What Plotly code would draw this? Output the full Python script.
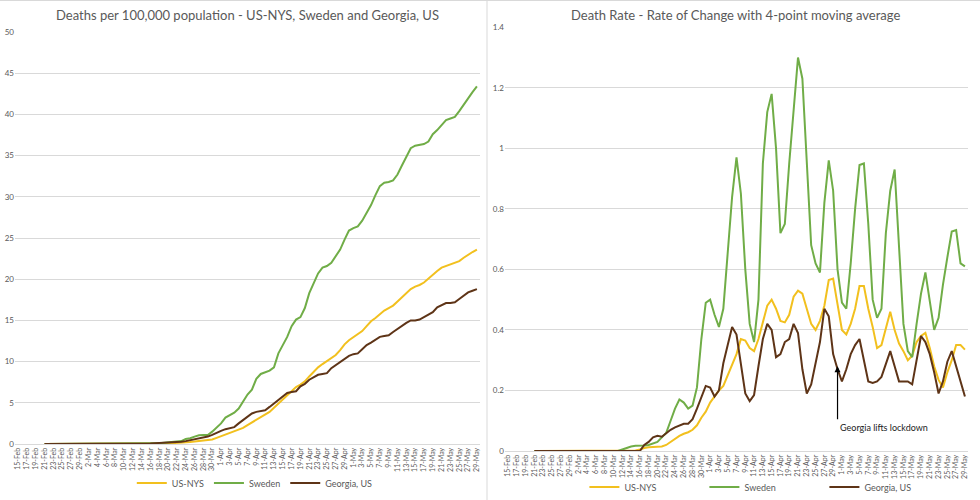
import pandas as pd
import plotly.graph_objects as go

# ---------------- data ----------------
start_date = "2020-02-21"
end_date = "2020-05-29"
dates = pd.date_range(start_date, end_date, freq="D")  # 99 days

zeros_pre = [0.0] * 19  # 21-Feb .. 10-Mar

# Left chart: cumulative deaths per 100,000
nys_deaths = zeros_pre + [
    0, 0, 0, 0.01, 0.01, 0.02, 0.03, 0.05, 0.06, 0.08,
    0.1, 0.12, 0.15, 0.2, 0.25, 0.3, 0.35, 0.4, 0.45, 0.55,
    0.75, 0.95, 1.15, 1.35, 1.55, 1.75, 1.95, 2.3, 2.6, 2.9,
    3.3, 3.6, 3.9, 4.4, 4.9, 5.4, 5.9, 6.3, 6.9, 7.2,
    7.6, 8.2, 8.8, 9.3, 9.7, 10.1, 10.4, 10.8, 11.4, 12.1,
    12.6, 13.0, 13.3, 13.7, 14.3, 14.9, 15.3, 15.8, 16.2, 16.5,
    16.8, 17.3, 17.8, 18.3, 18.8, 19.1, 19.3, 19.6, 20.1, 20.6,
    21.0, 21.4, 21.6, 21.8, 22.0, 22.2, 22.6, 23.0, 23.3, 23.6,
]
sweden_deaths = zeros_pre + [
    0.01, 0.01, 0.02, 0.03, 0.05, 0.07, 0.09, 0.1, 0.15, 0.2,
    0.25, 0.3, 0.35, 0.6, 0.7, 0.9, 1.05, 1.1, 1.1, 1.5,
    2.0, 2.5, 3.2, 3.5, 3.8, 4.3, 5.2, 6.0, 6.6, 7.9,
    8.5, 8.7, 8.9, 9.3, 11.0, 12.0, 13.0, 14.3, 15.1, 15.4,
    16.5, 18.3, 19.5, 20.7, 21.4, 21.6, 22.0, 22.8, 23.6, 24.8,
    25.9, 26.2, 26.4, 27.1, 28.0, 29.0, 30.2, 31.3, 31.7, 31.8,
    32.0, 32.7, 33.8, 34.9, 35.9, 36.2, 36.3, 36.4, 36.7, 37.6,
    38.1, 38.7, 39.3, 39.5, 39.7, 40.4, 41.2, 42.0, 42.7, 43.4,
]
georgia_deaths = zeros_pre + [
    0.01, 0.01, 0.02, 0.03, 0.05, 0.07, 0.1, 0.12, 0.13, 0.15,
    0.2, 0.25, 0.28, 0.35, 0.45, 0.55, 0.65, 0.75, 0.9, 1.1,
    1.4, 1.6, 1.8, 1.9, 2.05, 2.5, 2.9, 3.3, 3.7, 3.9,
    4.0, 4.1, 4.5, 4.9, 5.4, 5.8, 6.2, 6.3, 6.4, 7.0,
    7.3, 7.8, 8.1, 8.4, 8.5, 8.6, 9.2, 9.6, 10.0, 10.3,
    10.7, 10.9, 11.0, 11.5, 12.0, 12.3, 12.6, 13.0, 13.1, 13.2,
    13.6, 14.0, 14.3, 14.7, 15.0, 15.0, 15.1, 15.4, 15.7, 16.0,
    16.6, 16.9, 17.1, 17.1, 17.2, 17.6, 18.0, 18.4, 18.6, 18.8,
]

# Right chart: rate of change, 4-point moving average
nys_rate = zeros_pre + [
    0, 0, 0, 0, 0.002, 0.005, 0.01, 0.012, 0.013, 0.014,
    0.015, 0.02, 0.03, 0.04, 0.05, 0.057, 0.062, 0.07, 0.085, 0.11,
    0.13, 0.16, 0.18, 0.2, 0.215, 0.25, 0.28, 0.32, 0.37, 0.365,
    0.34, 0.33, 0.37, 0.43, 0.48, 0.5, 0.47, 0.43, 0.425, 0.45,
    0.51, 0.53, 0.52, 0.47, 0.42, 0.40, 0.43, 0.48, 0.565, 0.57,
    0.49, 0.40, 0.385, 0.42, 0.47, 0.545, 0.545, 0.47, 0.41, 0.34,
    0.35, 0.41, 0.46, 0.40, 0.355, 0.33, 0.30, 0.315, 0.36, 0.38,
    0.39, 0.34, 0.28, 0.235, 0.21, 0.26, 0.30, 0.35, 0.35, 0.335,
]
sweden_rate = zeros_pre + [
    0, 0.005, 0.01, 0.015, 0.017, 0.017, 0.018, 0.02, 0.025, 0.03,
    0.045, 0.06, 0.1, 0.14, 0.17, 0.16, 0.14, 0.15, 0.21, 0.37,
    0.49, 0.50, 0.45, 0.41, 0.47, 0.65, 0.84, 0.97, 0.85, 0.6,
    0.42, 0.36, 0.5, 0.95, 1.12, 1.18, 1.0, 0.72, 0.75, 0.95,
    1.12, 1.30, 1.23, 0.95, 0.68, 0.62, 0.59, 0.82, 0.96, 0.86,
    0.6, 0.49, 0.47, 0.62, 0.8, 0.945, 0.95, 0.75, 0.5, 0.44,
    0.47, 0.72, 0.86, 0.93, 0.68, 0.42, 0.33, 0.31, 0.42, 0.52,
    0.59, 0.5, 0.40, 0.44, 0.55, 0.64, 0.725, 0.73, 0.62, 0.61,
]
georgia_rate = zeros_pre + [
    0, 0, 0, 0, 0, 0.0, 0.02, 0.03, 0.045, 0.05,
    0.047, 0.06, 0.07, 0.078, 0.085, 0.09, 0.09, 0.105, 0.14, 0.18,
    0.215, 0.21, 0.18, 0.2, 0.29, 0.35, 0.41, 0.385, 0.29, 0.19,
    0.165, 0.185, 0.28, 0.37, 0.42, 0.4, 0.31, 0.32, 0.36, 0.37,
    0.42, 0.39, 0.27, 0.19, 0.22, 0.29, 0.36, 0.47, 0.445, 0.32,
    0.27, 0.23, 0.27, 0.32, 0.35, 0.37, 0.30, 0.23, 0.225, 0.23,
    0.245, 0.29, 0.33, 0.28, 0.23, 0.23, 0.23, 0.22, 0.3, 0.38,
    0.36, 0.32, 0.26, 0.19, 0.23, 0.295, 0.33, 0.28, 0.225, 0.18,
]

series_names = ["US-NYS", "Sweden", "Georgia, US"]
left_title = "Deaths per 100,000 population - US-NYS, Sweden and Georgia, US"
right_title = "Death Rate - Rate of Change with 4-point moving average"
lockdown_date = "2020-04-30"
lockdown_label = "Georgia lifts lockdown"

# ---------------- style ----------------
colors = ["#F2C01E", "#70AD47", "#5E3417"]
FONT = "Lato, 'Liberation Sans', sans-serif"
GREY = "#595959"
GRID = "#D9D9D9"

fig = go.Figure()
left_vals = [nys_deaths, sweden_deaths, georgia_deaths]
right_vals = [nys_rate, sweden_rate, georgia_rate]
for name, vals, c in zip(series_names, left_vals, colors):
    fig.add_trace(go.Scatter(x=dates, y=vals, name=name, mode="lines",
                             line=dict(color=c, width=2), xaxis="x", yaxis="y",
                             legend="legend"))
for name, vals, c in zip(series_names, right_vals, colors):
    fig.add_trace(go.Scatter(x=dates, y=vals, name=name, mode="lines",
                             line=dict(color=c, width=2), xaxis="x2", yaxis="y2",
                             legend="legend2"))

xrange = ["2020-02-14 07:12", "2020-05-29 16:48"]
xcommon = dict(type="date", range=xrange, tick0="2020-02-15", dtick=2 * 86400000,
               tickformat="%-d-%b", tickangle=-90, showgrid=False, zeroline=False,
               showline=True, linecolor=GRID, linewidth=1, automargin=False,
               tickfont=dict(size=7, color=GREY, family=FONT), ticks="")
ycommon = dict(showgrid=True, gridcolor=GRID, gridwidth=1, zeroline=False,
               showline=False, ticks="", automargin=False,
               tickfont=dict(size=8, color=GREY, family=FONT))

fig.update_layout(
    width=980, height=500,
    margin=dict(l=0, r=0, t=0, b=0, autoexpand=False),
    paper_bgcolor="white", plot_bgcolor="white",
    font=dict(family=FONT, color=GREY),
    xaxis=dict(domain=[15 / 980, 480 / 980], anchor="y", **xcommon),
    yaxis=dict(domain=[56 / 500, 468 / 500], anchor="x", range=[0, 50], dtick=5, **ycommon),
    xaxis2=dict(domain=[505 / 980, 968 / 980], anchor="y2", **xcommon),
    yaxis2=dict(domain=[49 / 500, 472.7 / 500], anchor="x2", range=[0, 1.4], dtick=0.2, **ycommon),
    legend=dict(orientation="h", x=0.26, xanchor="center", y=0.034, yanchor="middle",
                font=dict(size=9, color=GREY, family=FONT), itemwidth=30,
                bgcolor="rgba(0,0,0,0)"),
    legend2=dict(orientation="h", x=0.78, xanchor="center", y=0.026, yanchor="middle",
                 font=dict(size=9, color=GREY, family=FONT), itemwidth=30,
                 entrywidth=75, entrywidthmode="pixels", bgcolor="rgba(0,0,0,0)"),
    annotations=[
        dict(text=left_title, x=247 / 980, y=485 / 500, xref="paper", yref="paper",
             showarrow=False, xanchor="center", yanchor="middle",
             font=dict(size=13, color=GREY, family=FONT)),
        dict(text=right_title, x=735 / 980, y=485 / 500, xref="paper", yref="paper",
             showarrow=False, xanchor="center", yanchor="middle",
             font=dict(size=13, color=GREY, family=FONT)),
        dict(text="", x=lockdown_date, y=0.28, xref="x2", yref="y2",
             ax=lockdown_date, ay=0.1, axref="x2", ayref="y2",
             showarrow=True, arrowhead=2, arrowsize=1, arrowwidth=1.2,
             arrowcolor="#000000"),
        dict(text=lockdown_label, x=lockdown_date, y=0.079, xref="x2", yref="y2",
             showarrow=False, xanchor="left", yanchor="middle",
             font=dict(size=9, color="#222222", family=FONT)),
    ],
    shapes=[
        dict(type="line", xref="paper", yref="paper", x0=487 / 980, x1=487 / 980,
             y0=0, y1=1, line=dict(color=GRID, width=1)),
        dict(type="line", xref="paper", yref="paper", x0=0, x1=1,
             y0=0.999, y1=0.999, line=dict(color=GRID, width=1)),
    ],
)

fig.write_html(
    "out.html",
    config={"displayModeBar": False},
    post_script="document.body.style.margin='0';document.body.style.overflow='hidden';",
)
